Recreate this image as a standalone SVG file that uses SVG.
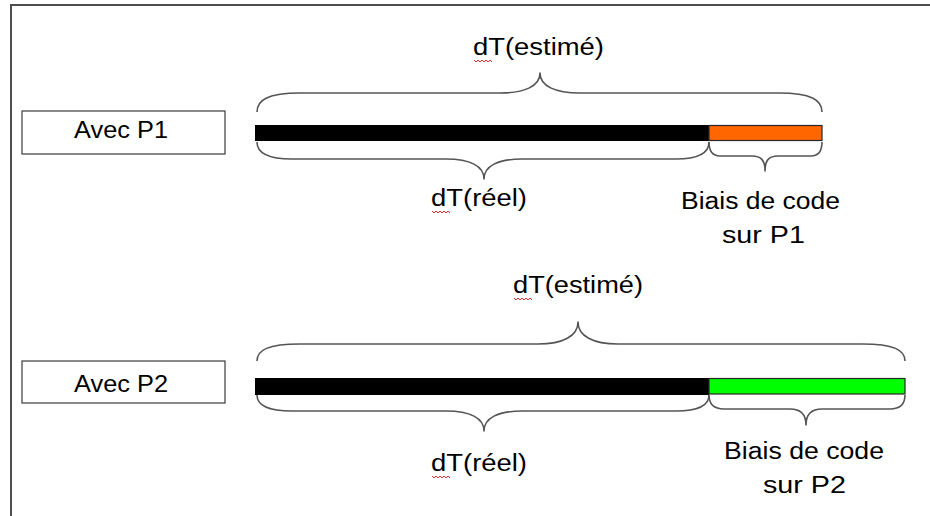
<svg xmlns="http://www.w3.org/2000/svg" width="930" height="516" viewBox="0 0 930 516">
  <style>
    .frame { stroke: #4d4d4d; stroke-width: 2; fill: none; }
    .label-box { fill: #ffffff; stroke: #3a3a3a; stroke-width: 1.2; }
    .txt { font-family: "Liberation Sans", Arial, sans-serif; font-size: 23px; fill: #000000; }
    .bar-real { fill: #000000; }
    .bias { stroke: #262626; stroke-width: 1.2; }
    .brace { fill: none; stroke: #555555; stroke-width: 1.6; stroke-linejoin: round; }
    .squiggle { fill: none; stroke: #e03030; stroke-width: 1; }
  </style>

  <rect width="930" height="516" fill="#ffffff"/>

  <!-- outer frame (top and left edges) -->
  <g id="frame">
    <line class="frame" x1="10" y1="5" x2="930" y2="5"/>
    <line class="frame" x1="11" y1="5" x2="11" y2="516"/>
  </g>

  <!-- case with P1 -->
  <g id="label-p1">
    <rect class="label-box" x="22" y="111" width="203" height="43"/>
    <text class="txt" x="74" y="138" textLength="94" lengthAdjust="spacingAndGlyphs">Avec P1</text>
  </g>
  <g id="bar-p1">
    <rect class="bar-real" x="255" y="125" width="454" height="16"/>
    <rect class="bias" x="709" y="125.5" width="113" height="15" fill="#ff6600"/>
  </g>
  <g id="estimate-p1">
    <text class="txt" x="473" y="55" textLength="131" lengthAdjust="spacingAndGlyphs">dT(estimé)</text>
    <path class="squiggle" d="M474,60 l2,2 l2,-2 l2,2 l2,-2 l2,2 l2,-2 l2,2 l2,-2 l2,2"/>
  </g>
  <g id="real-p1">
    <text class="txt" x="431" y="206" textLength="96" lengthAdjust="spacingAndGlyphs">dT(réel)</text>
    <path class="squiggle" d="M432,211 l2,2 l2,-2 l2,2 l2,-2 l2,2 l2,-2 l2,2 l2,-2 l2,2"/>
  </g>
  <g id="bias-label-p1">
    <text class="txt" x="681" y="209" textLength="159" lengthAdjust="spacingAndGlyphs">Biais de code</text>
    <text class="txt" x="722" y="243" textLength="83" lengthAdjust="spacingAndGlyphs">sur P1</text>
  </g>

  <!-- case with P2 -->
  <g id="label-p2">
    <rect class="label-box" x="22" y="361" width="203" height="42"/>
    <text class="txt" x="74" y="392" textLength="94" lengthAdjust="spacingAndGlyphs">Avec P2</text>
  </g>
  <g id="bar-p2">
    <rect class="bar-real" x="255" y="378" width="454" height="17"/>
    <rect class="bias" x="709" y="378.5" width="196" height="15.5" fill="#00ff00"/>
  </g>
  <g id="estimate-p2">
    <text class="txt" x="513" y="293" textLength="130" lengthAdjust="spacingAndGlyphs">dT(estimé)</text>
    <path class="squiggle" d="M514,298 l2,2 l2,-2 l2,2 l2,-2 l2,2 l2,-2 l2,2 l2,-2 l2,2"/>
  </g>
  <g id="real-p2">
    <text class="txt" x="431" y="471" textLength="96" lengthAdjust="spacingAndGlyphs">dT(réel)</text>
    <path class="squiggle" d="M432,476 l2,2 l2,-2 l2,2 l2,-2 l2,2 l2,-2 l2,2 l2,-2 l2,2"/>
  </g>
  <g id="bias-label-p2">
    <text class="txt" x="724" y="459" textLength="160" lengthAdjust="spacingAndGlyphs">Biais de code</text>
    <text class="txt" x="763" y="493" textLength="83" lengthAdjust="spacingAndGlyphs">sur P2</text>
  </g>

  <!-- braces -->
  <g id="connectors">
    <!-- P1: estimated span -->
    <path class="brace" d="M257,112 C257,100 268,93 300,93 L500,93 C525,93 540,86 540,73 C540,86 555,93 580,93 L779,93 C811,93 822,100 822,112"/>
    <!-- P1: real span -->
    <path class="brace" d="M257,142 C257,152 266,159 292,159 L446,159 C470,159 484,166 484,179 C484,166 498,159 522,159 L676,159 C700,159 709,152 709,142"/>
    <!-- P1: bias span -->
    <path class="brace" d="M709,142 C709,151 712,156 720,156 L752,156 C761,156 765,160 765,171 C765,160 769,156 778,156 L811,156 C819,156 822,151 822,142"/>
    <!-- P2: estimated span -->
    <path class="brace" d="M257,361 C257,350 268,344 300,344 L538,344 C563,344 578,336 578,322 C578,336 593,344 618,344 L862,344 C894,344 905,350 905,361"/>
    <!-- P2: real span -->
    <path class="brace" d="M257,395 C257,405 266,411 292,411 L446,411 C470,411 484,418 484,431 C484,418 498,411 522,411 L676,411 C700,411 709,405 709,395"/>
    <!-- P2: bias span -->
    <path class="brace" d="M709,395 C709,404 713,409 724,409 L790,409 C800,409 806,414 806,425 C806,414 812,409 822,409 L890,409 C901,409 905,404 905,395"/>
  </g>
</svg>
